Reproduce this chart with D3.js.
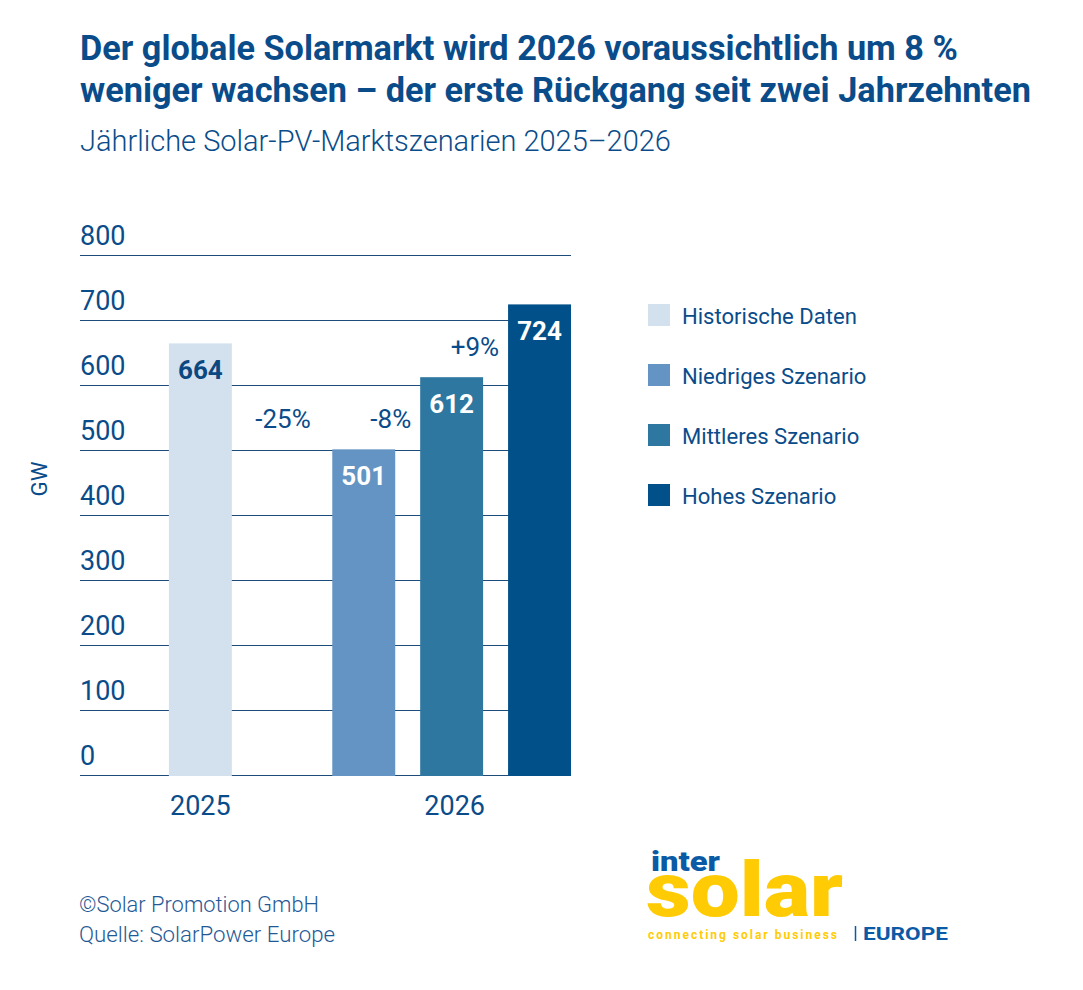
<!DOCTYPE html>
<html><head><meta charset="utf-8">
<script src="https://cdn.jsdelivr.net/npm/d3@7"></script>
<style>
body{margin:0;background:#fff}
svg{display:block}
text{font-family:Roboto,"Noto Sans",sans-serif}
</style>
</head><body>
<svg id="c" width="1083" height="990"></svg>
<script>
// ---- data ----
const years = ["2025", "2026"];
const series = ["Historische Daten", "Niedriges Szenario", "Mittleres Szenario", "Hohes Szenario"];
const seriesYear = ["2025", "2026", "2026", "2026"];
const values = [664, 501, 612, 724];
const changeLabels = [null, "-25%", "-8%", "+9%"];
const colors = ["#d3e0ee", "#6494c3", "#2e77a0", "#02508a"];
const yTicks = [0, 100, 200, 300, 400, 500, 600, 700, 800];
const titleLines = ["Der globale Solarmarkt wird 2026 voraussichtlich um 8 %",
                    "weniger wachsen – der erste Rückgang seit zwei Jahrzehnten"];
const subtitle = "Jährliche Solar-PV-Marktszenarien 2025–2026";
const footerLines = ["©Solar Promotion GmbH", "Quelle: SolarPower Europe"];
const yLabel = "GW";

const BLUE = "#0a4c8a";
const svg = d3.select("#c");

function fit(sel, target) {
  const w = sel.node().getComputedTextLength();
  const fs = parseFloat(sel.attr("font-size"));
  sel.attr("font-size", (fs * target / w).toFixed(2));
  return fs * target / w;
}

// ---- title ----
const t2 = svg.append("text").attr("x", 80).attr("y", 102).attr("font-size", 31)
  .attr("font-weight", 700).attr("fill", BLUE).text(titleLines[1]);
const tfs = fit(t2, 951);
svg.append("text").attr("x", 80).attr("y", 60).attr("font-size", tfs)
  .attr("font-weight", 700).attr("fill", BLUE).text(titleLines[0]);
const st = svg.append("text").attr("x", 80).attr("y", 151).attr("font-size", 26)
  .attr("font-weight", 300).attr("fill", BLUE).text(subtitle);
fit(st, 591);

// ---- scales ----
const y = d3.scaleLinear().domain([0, 800]).range([775, 255]);
const xOuter = d3.scaleBand().domain(years).range([81, 571]).paddingInner(0.05).paddingOuter(0);
const xInner = d3.scaleBand().domain(series.slice(1)).range([0, xOuter.bandwidth()]).paddingInner(0.284).paddingOuter(0);
const bw = xInner.bandwidth();
function barX(i) {
  if (seriesYear[i] === "2025") return xOuter(seriesYear[i]) + (xOuter.bandwidth() - bw) / 2;
  return xOuter(seriesYear[i]) + xInner(series[i]);
}

// ---- grid + y tick labels ----
const yAxis = d3.axisRight(y).tickValues(yTicks).tickSize(491).tickFormat(d3.format("d"));
const ga = svg.append("g").attr("transform", "translate(80,0)").call(yAxis);
ga.select(".domain").remove();
ga.selectAll(".tick line").attr("stroke", "#1d4b7a").attr("stroke-width", 1.2);
ga.selectAll(".tick text").attr("x", 0).attr("dy", 0).attr("y", -11)
  .attr("text-anchor", "start").attr("font-size", 27).attr("font-family", "Roboto,'Noto Sans',sans-serif")
  .attr("font-weight", 400).attr("fill", BLUE);

// y label
const gl = svg.append("text").attr("transform", "translate(39,479) rotate(-90)")
  .attr("text-anchor", "middle").attr("dominant-baseline", "central")
  .attr("font-size", 24).attr("fill", BLUE).text(yLabel);
fit(gl, 35);

// ---- bars ----
svg.append("g").selectAll("rect").data(values).join("rect")
  .attr("x", (d, i) => barX(i)).attr("width", bw)
  .attr("y", d => y(d)).attr("height", d => y(0) - y(d) + 1)
  .attr("fill", (d, i) => colors[i]);

// value labels
svg.append("g").selectAll("text").data(values).join("text")
  .attr("x", (d, i) => barX(i) + bw / 2).attr("y", d => y(d) + 36)
  .attr("text-anchor", "middle").attr("font-size", 26).attr("font-weight", 700)
  .attr("fill", (d, i) => i === 0 ? "#0b4780" : "#ffffff").text(d => d);

// change labels
changeLabels.forEach((lab, i) => {
  if (!lab) return;
  let x, yy, anchor;
  if (i === 1) {
    x = (barX(0) + bw + barX(1)) / 2 + 1; anchor = "middle"; yy = y(values[i]) - 21;
  } else {
    x = barX(i) - 9; anchor = "end"; yy = y(values[i - 1]) - 21;
  }
  svg.append("text").attr("x", x).attr("y", yy).attr("text-anchor", anchor)
    .attr("font-size", 26).attr("fill", BLUE).text(lab);
});

// ---- x axis labels ----
const xa = svg.append("g").attr("transform", "translate(0,775)")
  .call(d3.axisBottom(xOuter).tickSize(0));
xa.select(".domain").remove();
xa.selectAll(".tick text").attr("y", 40).attr("dy", 0).attr("font-size", 27)
  .attr("font-family", "Roboto,'Noto Sans',sans-serif").attr("fill", BLUE)
  .attr("x", d => d === "2026" ? 3 : 0);

// ---- legend ----
const lg = svg.append("g").selectAll("g").data(series).join("g")
  .attr("transform", (d, i) => `translate(648,${304 + i * 60})`);
lg.append("rect").attr("width", 22).attr("height", 22).attr("fill", (d, i) => colors[i]);
const lt = lg.append("text").attr("x", 34).attr("y", 20).attr("font-size", 21).attr("fill", BLUE).text(d => d);
const ltFs = fit(d3.select(lt.nodes()[0]), 175);
lt.attr("font-size", ltFs.toFixed(2));

// ---- footer ----
footerLines.forEach((l, i) => {
  const ft = svg.append("text").attr("x", 79).attr("y", 912 + i * 30).attr("font-size", 23)
    .attr("font-weight", 300).attr("fill", "#1f5a96").text(l);
  fit(ft, i === 0 ? 240 : 256);
});

// ---- logo ----
const logo = svg.append("g");
const YEL = "#ffcb05", LBLUE = "#0b5aa5";
logo.append("text").attr("x", 651).attr("y", 871).attr("font-size", 27).attr("font-weight", 900)
  .attr("fill", LBLUE).attr("textLength", 69).attr("lengthAdjust", "spacingAndGlyphs").text("inter");
logo.append("text").attr("x", 646).attr("y", 916).attr("font-size", 76).attr("font-weight", 900)
  .attr("fill", YEL).attr("textLength", 197).attr("lengthAdjust", "spacingAndGlyphs").text("solar");
logo.append("text").attr("x", 648).attr("y", 939).attr("font-size", 12).attr("font-weight", 700)
  .attr("fill", YEL).attr("textLength", 189).attr("lengthAdjust", "spacing").text("connecting solar business");
logo.append("line").attr("x1", 855.5).attr("x2", 855.5).attr("y1", 926).attr("y2", 941)
  .attr("stroke", LBLUE).attr("stroke-width", 1.5);
logo.append("text").attr("x", 863).attr("y", 940).attr("font-size", 18).attr("font-weight", 700)
  .attr("fill", LBLUE).attr("textLength", 85).attr("lengthAdjust", "spacingAndGlyphs").text("EUROPE");
</script>
</body></html>
